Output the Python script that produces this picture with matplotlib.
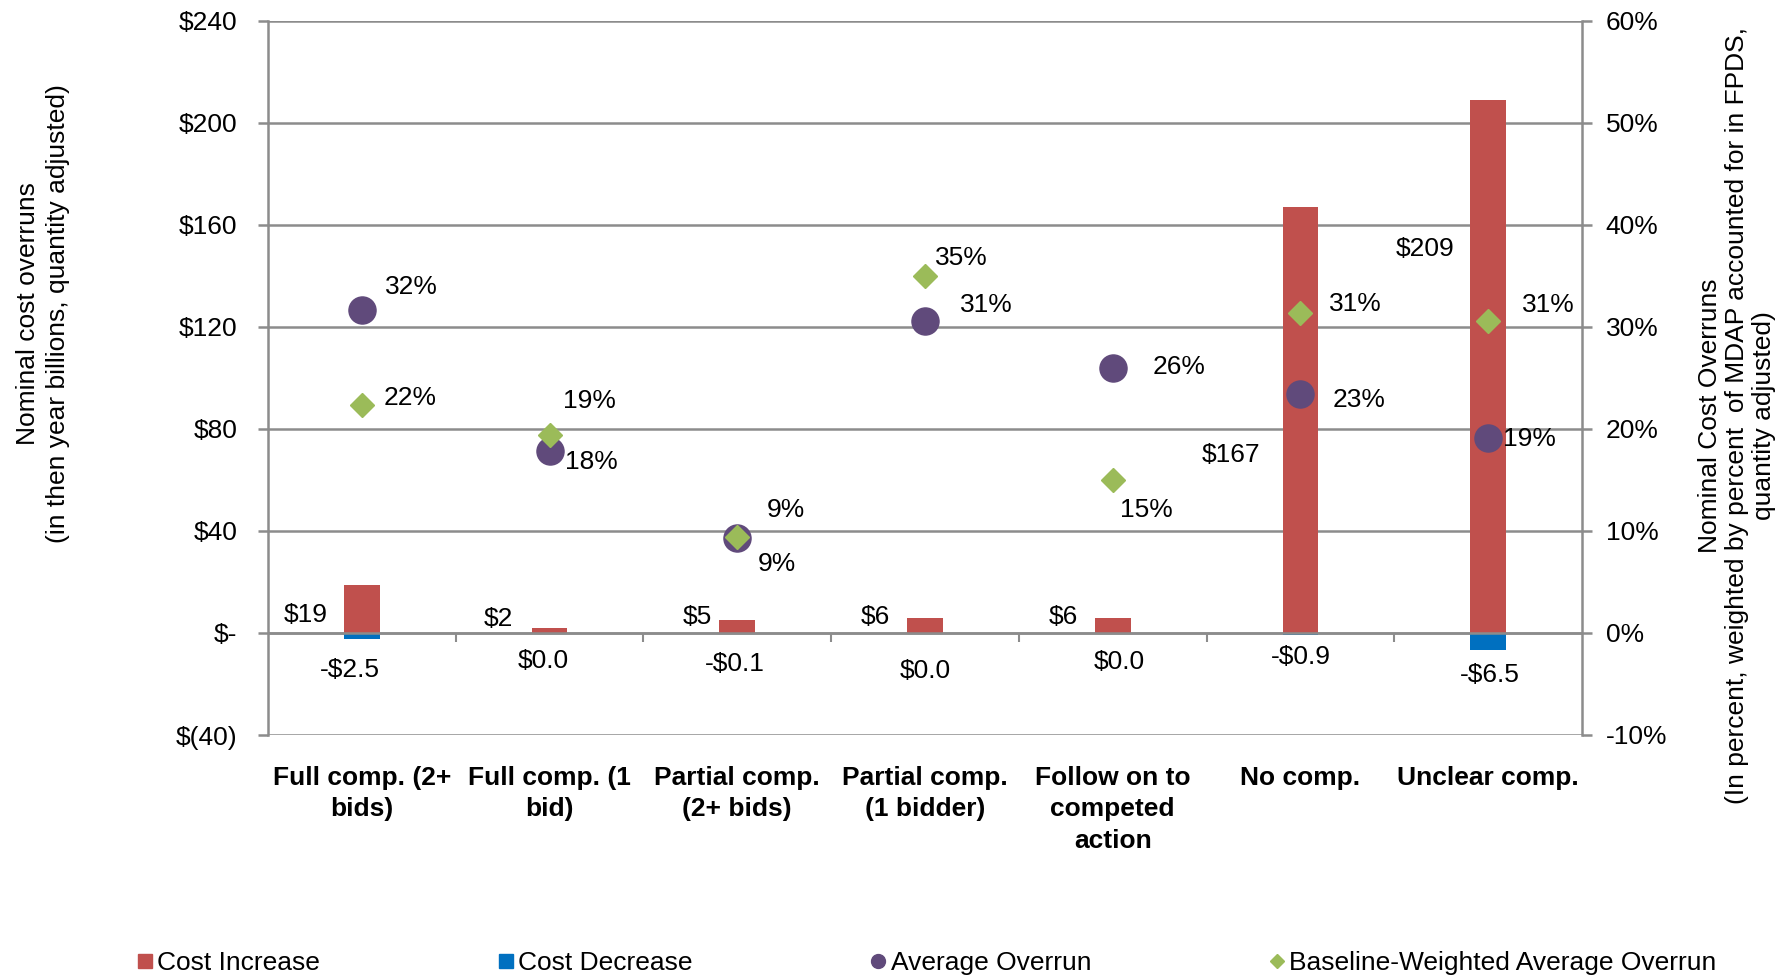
import matplotlib
matplotlib.use('Agg')
import matplotlib.pyplot as plt
from matplotlib.lines import Line2D
import numpy as np

plt.rcParams['font.family'] = ['Liberation Sans', 'DejaVu Sans']
plt.rcParams['font.size'] = 19

categories = ['Full comp. (2+\nbids)', 'Full comp. (1\nbid)', 'Partial comp.\n(2+ bids)',
              'Partial comp.\n(1 bidder)', 'Follow on to\ncompeted\naction', 'No comp.',
              'Unclear comp.']
cost_increase = [19, 2, 5, 6, 6, 167, 209]
cost_decrease = [-2.5, 0.0, -0.1, 0.0, 0.0, -0.9, -6.5]
avg_overrun = [31.7, 17.8, 9.3, 30.6, 26.0, 23.4, 19.1]
baseline_overrun = [22.4, 19.4, 9.4, 35.0, 15.0, 31.4, 30.6]

# label offsets in pixels (dx, dy) relative to the mark
inc_off = [(-56, -30), (-51, 9), (-40, 3), (-50, 1), (-49, 1), (-69, -248), (-63, -149)]
dec_off = [(-12, -31), (-6, -28), (-2, -31), (0, -38), (7, -29), (0, -22), (2, -25)]
avg_off = [(50, 23), (42, -11), (40, -26), (61, 16), (66, 1), (59, -6), (41, -1)]
base_off = [(48, 7), (40, 34), (49, 27), (36, 18), (34, -30), (55, 9), (60, 16)]

red = '#C0504D'
blue = '#0070C0'
purple = '#604A7B'
green = '#9BBB59'
grey = '#8C8C8C'

fig = plt.figure(figsize=(17.92, 9.76), dpi=100)
ax = fig.add_axes([268/1792, 1-735/976, (1582-268)/1792, (735-21)/976])
ax2 = ax.twinx()

x = np.arange(len(categories))
ax.set_axisbelow(True)
ax.bar(x, cost_increase, width=0.19, color=red, zorder=2)
ax.bar(x, cost_decrease, width=0.19, color=blue, zorder=2)

ax.set_xlim(-0.5, len(categories) - 0.5)
ax.set_ylim(-40, 240)
ax.set_yticks(np.arange(-40, 241, 40))

def money(v, pos=None):
    if v == 0:
        return '$-'
    if v < 0:
        return '$(%d)' % abs(v)
    return '$%d' % v

ax.yaxis.set_major_formatter(plt.FuncFormatter(money))
ax.grid(axis='y', color=grey, lw=1.8)
ax.axhline(0, color=grey, lw=1.8, zorder=3)
ax.vlines(x[:-1] + 0.5, -3.5, 0, color=grey, lw=1.5)

ax.set_xticks(x)
ax.set_xticklabels(categories, fontweight='bold', linespacing=1.4)
ax.tick_params(axis='x', length=0, pad=22)
ax.tick_params(axis='y', length=7, width=1.8, color=grey, pad=15)

for s in ['top', 'bottom', 'left', 'right']:
    ax.spines[s].set_visible(False)
    ax2.spines[s].set_visible(False)
ax.spines['left'].set_visible(True)
ax.spines['left'].set_color(grey)
ax.spines['left'].set_linewidth(1.8)
ax2.spines['right'].set_visible(True)
ax2.spines['right'].set_color(grey)
ax2.spines['right'].set_linewidth(1.8)

ax2.set_ylim(-10, 60)
ax2.set_yticks(np.arange(-10, 61, 10))
ax2.yaxis.set_major_formatter(plt.FuncFormatter(lambda v, p: '%d%%' % v))
ax2.tick_params(axis='y', length=7, width=1.8, color=grey, pad=10)

ax2.plot(x, avg_overrun, 'o', color=purple, ms=19.5, zorder=4)
ax2.plot(x, baseline_overrun, 'D', color=green, ms=12.5, zorder=5)

for i in range(len(categories)):
    ax.annotate('$%d' % cost_increase[i], (x[i], cost_increase[i]), xytext=inc_off[i],
                textcoords='offset pixels', ha='center', va='center')
    v = cost_decrease[i]
    lab = ('-' if v < 0 else '') + '$%.1f' % abs(v)
    ax.annotate(lab, (x[i], v), xytext=dec_off[i],
                textcoords='offset pixels', ha='center', va='center')
    ax2.annotate('%d%%' % round(avg_overrun[i]), (x[i], avg_overrun[i]), xytext=avg_off[i],
                 textcoords='offset pixels', ha='center', va='center', zorder=6)
    ax2.annotate('%d%%' % round(baseline_overrun[i]), (x[i], baseline_overrun[i]),
                 xytext=base_off[i], textcoords='offset pixels', ha='center', va='center',
                 zorder=6)

fig.text(43/1792, 1-314/976, 'Nominal cost overruns\n(in then year billions, quantity adjusted)',
         rotation=90, ha='center', va='center', multialignment='center', linespacing=1.29)
fig.text(1737/1792, 1-416/976,
         'Nominal Cost Overruns\n(In percent, weighted by percent  of MDAP accounted for in FPDS,\nquantity adjusted)',
         rotation=90, ha='center', va='center', multialignment='center', linespacing=1.15)

handles = [Line2D([], [], marker='s', color=red, ls='none', ms=10),
           Line2D([], [], marker='s', color=blue, ls='none', ms=10),
           Line2D([], [], marker='o', color=purple, ls='none', ms=10),
           Line2D([], [], marker='D', color=green, ls='none', ms=7.5)]
labels = ['Cost Increase', 'Cost Decrease', 'Average Overrun', 'Baseline-Weighted Average Overrun']
fig.legend(handles, labels, loc='center', bbox_to_anchor=(927/1792, 1-963/976), ncol=4,
           frameon=False, handlelength=0.55, handletextpad=0.2, columnspacing=6.75,
           borderaxespad=0, borderpad=0)

fig.savefig('out.png', dpi=100)
